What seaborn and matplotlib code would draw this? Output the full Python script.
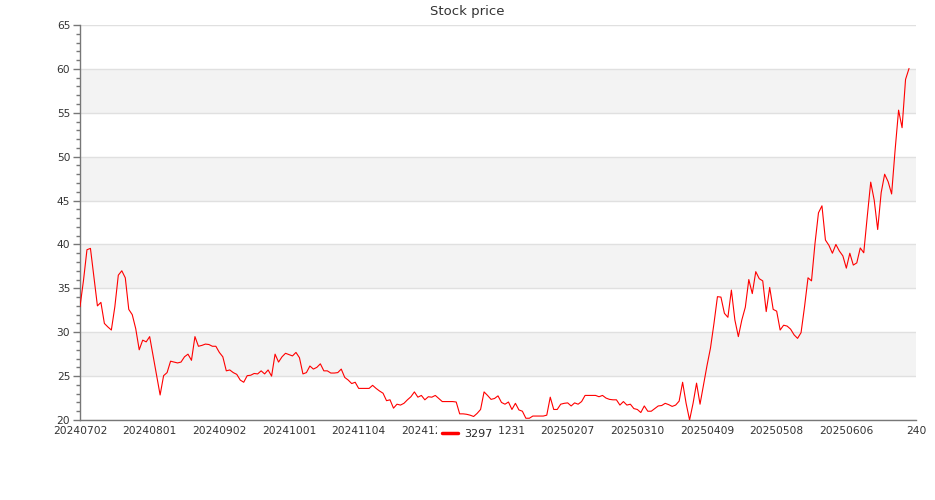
import matplotlib
matplotlib.use("Agg")
import matplotlib.pyplot as plt
from matplotlib.ticker import MultipleLocator
import pandas as pd
import seaborn as sns

# Daily closing prices for ticker 3297 (one value per trading day)
prices = [
    32.9, 35.9, 39.4, 39.55, 36.3, 33.0, 33.4, 31.0, 30.6, 30.25,
    32.9, 36.5, 37.0, 36.2, 32.6, 32.0, 30.4, 28.0, 29.1, 28.9,
    29.5, 27.3, 25.1, 22.85, 25.05, 25.4, 26.7, 26.6, 26.5, 26.6,
    27.2, 27.5, 26.8, 29.5, 28.4, 28.5, 28.65, 28.6, 28.4, 28.4,
    27.7, 27.2, 25.6, 25.7, 25.4, 25.2, 24.55, 24.3, 25.05, 25.1,
    25.3, 25.25, 25.6, 25.25, 25.7, 25.0, 27.5, 26.6, 27.2, 27.6,
    27.45, 27.3, 27.7, 27.1, 25.25, 25.4, 26.15, 25.8, 26.0, 26.4,
    25.6, 25.6, 25.35, 25.35, 25.4, 25.8, 24.85, 24.55, 24.15, 24.3,
    23.6, 23.6, 23.6, 23.6, 23.95, 23.6, 23.3, 23.05, 22.2, 22.3,
    21.35, 21.8, 21.7, 21.9, 22.3, 22.65, 23.2, 22.6, 22.8, 22.3,
    22.65, 22.6, 22.8, 22.45, 22.1, 22.1, 22.1, 22.1, 22.05, 20.7,
    20.7, 20.65, 20.55, 20.4, 20.75, 21.2, 23.2, 22.8, 22.35, 22.45,
    22.75, 22.0, 21.8, 22.05, 21.2, 21.9, 21.15, 21.0, 20.2, 20.2,
    20.45, 20.45, 20.45, 20.45, 20.55, 22.6, 21.2, 21.2, 21.8, 21.9,
    21.95, 21.6, 21.95, 21.8, 22.1, 22.8, 22.8, 22.8, 22.8, 22.65,
    22.8, 22.5, 22.35, 22.3, 22.3, 21.7, 22.1, 21.7, 21.8, 21.3,
    21.2, 20.85, 21.6, 21.0, 21.0, 21.3, 21.6, 21.65, 21.9, 21.75,
    21.55, 21.7, 22.15, 24.3, 21.9, 20.0, 21.9, 24.2, 21.8, 24.0,
    26.2, 28.2, 31.0, 34.05, 34.0, 32.15, 31.7, 34.8, 31.4, 29.5,
    31.4, 32.85, 36.0, 34.4, 36.9, 36.1, 35.85, 32.35, 35.1, 32.6,
    32.4, 30.25, 30.8, 30.7, 30.35, 29.7, 29.3, 29.95, 32.9, 36.2,
    35.85, 40.1, 43.6, 44.4, 40.5, 39.9, 39.0, 40.0, 39.25, 38.7,
    37.3, 39.0, 37.65, 37.9, 39.6, 39.05, 43.15, 47.1, 45.05, 41.7,
    45.9, 48.0, 47.15, 45.75, 50.75, 55.3, 53.3, 58.8, 60.05,
]

# Axis labels shown every 20 trading days
tick_labels = [
    "20240702", "20240801", "20240902", "20241001", "20241104",
    "20241203", "20241231", "20250207", "20250310", "20250409",
    "20250508", "20250606", "240",
]
tick_step = 20
series_name = "3297"
title = "Stock price"

sns.set_style("white")
plt.rcParams["font.family"] = ["DejaVu Sans"]

W, H = 935, 500
fig = plt.figure(figsize=(W / 100, H / 100), dpi=100)
ax = fig.add_axes([80 / W, 80 / H, 836 / W, 395 / H])

df = pd.DataFrame({"day": range(len(prices)), "price": prices})
sns.lineplot(data=df, x="day", y="price", color="#ff0000", linewidth=0.8,
             ax=ax, label=series_name, zorder=3)

x_max = tick_step * (len(tick_labels) - 1)
ax.set_xlim(0, x_max)
ax.set_ylim(20, 65)

# alternating horizontal bands
for lo in range(25, 60, 10):
    ax.axhspan(lo, lo + 5, color="#f3f3f3", lw=0, zorder=0)

ax.yaxis.set_major_locator(MultipleLocator(5))
ax.yaxis.set_minor_locator(MultipleLocator(1))
ax.yaxis.grid(True, which="major", color="#e0e0e0", linewidth=1)
ax.xaxis.grid(False)
ax.set_axisbelow(True)

ax.set_xticks(range(0, x_max + 1, tick_step))
ax.set_xticklabels(tick_labels)
ax.tick_params(axis="x", length=0, pad=4, labelsize=7.7, labelcolor="#333333")
ax.tick_params(axis="y", which="major", left=True, length=5, width=1,
               color="#777777", pad=2, labelsize=7.7, labelcolor="#333333")
ax.tick_params(axis="y", which="minor", left=True, length=3, width=1,
               color="#777777")

for side in ("top", "right"):
    ax.spines[side].set_visible(False)
for side in ("left", "bottom"):
    ax.spines[side].set_color("#777777")
    ax.spines[side].set_linewidth(1)

ax.set_xlabel("")
ax.set_ylabel("")

handles, labels = ax.get_legend_handles_labels()
ax.get_legend().remove()
leg = fig.legend(handles, labels, loc="center",
                 bbox_to_anchor=(467.5 / W, 1 - 434 / H),
                 frameon=True, facecolor="white", edgecolor="none",
                 framealpha=1, fancybox=False, fontsize=8,
                 handlelength=1.4, handletextpad=0.55, borderpad=0.5)
for line in leg.get_lines():
    line.set_linewidth(2.5)

fig.suptitle(title, x=467 / W, y=1 - 12 / H, va="center",
             fontsize=9.5, color="#333333")

fig.savefig("out.png", dpi=100, facecolor="white")
